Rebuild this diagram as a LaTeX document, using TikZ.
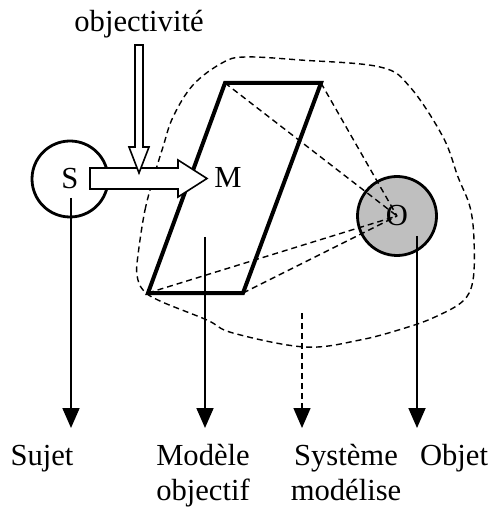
\documentclass[tikz,border=0pt]{standalone}
\usepackage{fontspec}
\setmainfont{Liberation Serif}
\usetikzlibrary{arrows.meta}

\begin{document}
\begin{tikzpicture}[
    x=0.5pt, y=-0.5pt,
    font=\fontsize{15.3}{17.5}\selectfont,
    >={Triangle[width=8.5pt,length=10pt]},
    % Cercles du sujet et de l'objet
    rond/.style={
        draw,
        circle,
        line width=1.4pt,
        minimum size=38pt,
        inner sep=0pt
    },
    fleche/.style={->, line width=0.9pt},
    pointille/.style={dash pattern=on 3pt off 2pt, line width=0.7pt},
    grosse/.style={draw, fill=white, line width=0.8pt},
    etiquette/.style={anchor=base, align=center}
]
  \useasboundingbox (0,0) rectangle (494,517);

  % --- Contour du systeme modelise ---
  \draw[pointille] plot[smooth cycle, tension=0.6] coordinates {
      (138,255) (145,210) (155,173) (163,147) (173,117) (193,85)
      (222,63) (245,57) (300,60) (380,67) (410,87) (443,137)
      (458,177) (470,207) (474,240) (473,280) (463,301) (435,317)
      (405,328) (360,340) (305,347) (233,333) (207,320) (160,301)
      (143,290) (137,275)};

  % --- Modele (parallelogramme) ---
  \coordinate (A) at (148,293);
  \coordinate (B) at (243,293);
  \coordinate (C) at (321,83);
  \coordinate (D) at (225,83);
  \draw[line width=2pt] (A) -- (B) -- (C) -- (D) -- cycle;

  % --- Objet ---
  \node[rond, fill=black!25, minimum size=39.5pt] (O) at (397,216) {O};
  \foreach \c in {A,B,C,D}
    \draw[pointille] (\c) -- (O.center);

  % --- Sujet ---
  \node[rond] (S) at (70,179) {S};
  \node (M) at (228,177) {M};

  % --- Fleches vers les legendes ---
  \coordinate (s0) at (71,198);  \coordinate (s1) at (71,428);
  \coordinate (m0) at (205,237); \coordinate (m1) at (205,428);
  \coordinate (y0) at (302,313); \coordinate (y1) at (302,428);
  \coordinate (o0) at (417,236); \coordinate (o1) at (417,428);
  \draw[fleche] (s0) -- (s1);
  \draw[fleche] (m0) -- (m1);
  \draw[fleche, pointille] (y0) -- (y1);
  \draw[fleche] (o0) -- (o1);

  \node[etiquette] (suj) at (42,465) {Sujet};
  \node[etiquette] (mod) at (203,500) {Modèle\\objectif};
  \node[etiquette] (sys) at (346,500) {Système\\modélise};
  \node[etiquette] (obj) at (454,465) {Objet};

  % --- Grosses fleches ---
  \draw[grosse] (90,168) -- (178,168) -- (178,160) -- (207,178.5)
      -- (178,197) -- (178,189) -- (90,189) -- cycle;
  \draw[grosse] (135,45) -- (143,45) -- (143,147) -- (149,147)
      -- (139,173) -- (129,147) -- (135,147) -- cycle;
  \node[etiquette] (objv) at (139,32) {objectivité};

\end{tikzpicture}
\end{document}
